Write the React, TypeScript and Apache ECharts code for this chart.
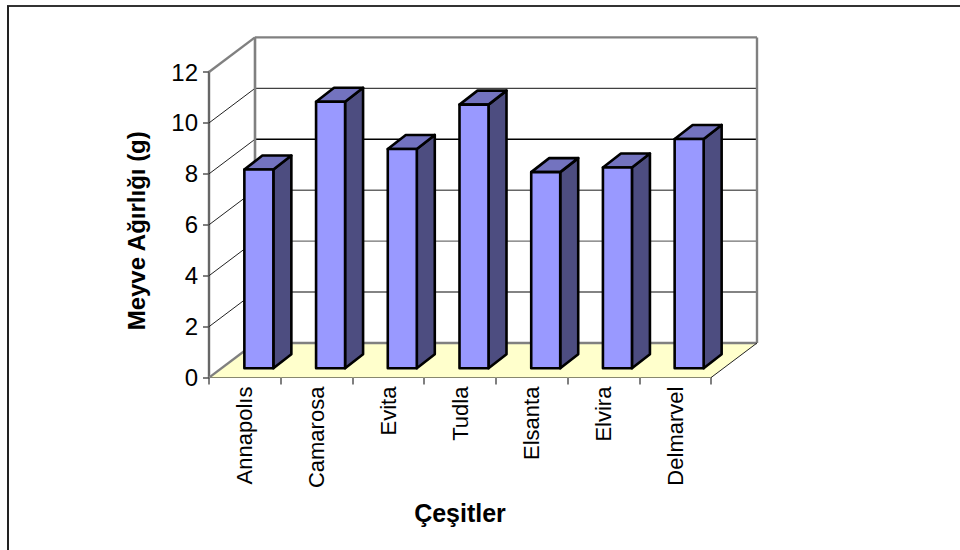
import React, { useEffect, useRef } from "react";
import * as echarts from "echarts";

const categories = ["Annapolıs", "Camarosa", "Evita", "Tudla", "Elsanta", "Elvira", "Delmarvel"];
const weights = [7.8, 10.46, 8.61, 10.35, 7.7, 7.88, 9.0];
const yTicks = [0, 2, 4, 6, 8, 10, 12];
// Colour of each receding gridline, bottom to top.
const gridColors = ["#808080", "#5a5a5a", "#707070", "#666666", "#000000", "#404040", "#808080"];
const xTitle = "Çeşitler";
const yTitle = "Meyve Ağırlığı (g)";

const FONT = '"Liberation Sans", Arial, sans-serif';

// Projection of the chart's depth axis onto the screen.
const WALL_DX = 46;
const WALL_DY = 34.6;
const BAR_DX = 14;
const BAR_DY = 9.4;
const BAR_DEPTH_X = 18;
const BAR_DEPTH_Y = 14;
const BAR_WIDTH = 29;

const FRAME = "#808080";

function renderWalls(params: any, api: any) {
  const cs = params.coordSys;
  const left = cs.x;
  const right = cs.x + cs.width;
  const bottom = cs.y + cs.height;
  const top = cs.y;
  const children: any[] = [];

  children.push({
    type: "polygon",
    shape: {
      points: [
        [left, bottom],
        [left + WALL_DX, bottom - WALL_DY],
        [right + WALL_DX, bottom - WALL_DY],
        [right, bottom],
      ],
    },
    style: { fill: "#FFFFCC", stroke: "none" },
  });

  yTicks.forEach((t, i) => {
    const y = api.coord([0, t])[1];
    const isEdge = i === 0 || i === yTicks.length - 1;
    children.push({
      type: "polyline",
      shape: {
        points: [
          [left, y],
          [left + WALL_DX, y - WALL_DY],
        ],
      },
      style: { fill: "none", stroke: isEdge ? FRAME : "#222222", lineWidth: isEdge ? 2.4 : 1 },
    });
    children.push({
      type: "line",
      shape: { x1: left + WALL_DX, y1: y - WALL_DY, x2: right + WALL_DX, y2: y - WALL_DY },
      style: { stroke: gridColors[i], lineWidth: isEdge ? 2.4 : 1.4 },
    });
  });

  children.push({
    type: "line",
    shape: { x1: left + WALL_DX, y1: top - WALL_DY, x2: left + WALL_DX, y2: bottom - WALL_DY },
    style: { stroke: FRAME, lineWidth: 2.6 },
  });
  children.push({
    type: "line",
    shape: { x1: right + WALL_DX, y1: top - WALL_DY, x2: right + WALL_DX, y2: bottom - WALL_DY },
    style: { stroke: FRAME, lineWidth: 2.4 },
  });
  children.push({
    type: "line",
    shape: { x1: right, y1: bottom, x2: right + WALL_DX, y2: bottom - WALL_DY },
    style: { stroke: "#222222", lineWidth: 1 },
  });

  return { type: "group", children };
}

function renderBar(_params: any, api: any) {
  const [cx, yTop] = api.coord([api.value(0), api.value(1)]);
  const [, yBase] = api.coord([api.value(0), 0]);
  const x0 = cx + BAR_DX - BAR_WIDTH / 2;
  const x1 = x0 + BAR_WIDTH;
  const y0 = yTop - BAR_DY;
  const y1 = yBase - BAR_DY;
  const edge = { stroke: "#000000", lineWidth: 2.6, lineJoin: "round" };
  return {
    type: "group",
    children: [
      {
        type: "polygon",
        shape: {
          points: [
            [x1, y0],
            [x1 + BAR_DEPTH_X, y0 - BAR_DEPTH_Y],
            [x1 + BAR_DEPTH_X, y1 - BAR_DEPTH_Y],
            [x1, y1],
          ],
        },
        style: { fill: "#4D4D80", ...edge },
      },
      {
        type: "polygon",
        shape: {
          points: [
            [x0, y0],
            [x0 + BAR_DEPTH_X, y0 - BAR_DEPTH_Y],
            [x1 + BAR_DEPTH_X, y0 - BAR_DEPTH_Y],
            [x1, y0],
          ],
        },
        style: { fill: "#7373BF", ...edge },
      },
      {
        type: "rect",
        shape: { x: x0, y: y0, width: BAR_WIDTH, height: y1 - y0 },
        style: { fill: "#9999FF", ...edge },
      },
    ],
  };
}

export default function App() {
  const ref = useRef<HTMLDivElement>(null);

  useEffect(() => {
    const chart = echarts.init(ref.current!, undefined, { renderer: "svg" });
    chart.setOption({
      animation: false,
      backgroundColor: "#ffffff",
      textStyle: { fontFamily: FONT },
      grid: { left: 209, top: 72, width: 502, height: 305.6 },
      xAxis: {
        type: "category",
        data: categories,
        name: xTitle,
        nameLocation: "middle",
        nameGap: 123,
        nameTextStyle: { fontFamily: FONT, fontWeight: "bold", fontSize: 25, color: "#000" },
        axisLine: { lineStyle: { color: "#111111", width: 1 } },
        axisTick: { show: true, length: 7, lineStyle: { color: "#555555", width: 1.5 } },
        axisLabel: { rotate: 90, interval: 0, margin: 9, fontFamily: FONT, fontSize: 22, color: "#000" },
        splitLine: { show: false },
      },
      yAxis: {
        type: "value",
        min: 0,
        max: 12,
        interval: 2,
        name: yTitle,
        nameLocation: "middle",
        nameGap: 61,
        nameTextStyle: { fontFamily: FONT, fontWeight: "bold", fontSize: 24, color: "#000", padding: [0, 12, 0, 0] },
        axisLine: { show: true, lineStyle: { color: "#666666", width: 2.4 } },
        axisTick: { show: true, length: 6, lineStyle: { color: "#555555", width: 1.5 } },
        axisLabel: { margin: 11, fontFamily: FONT, fontSize: 24, color: "#000" },
        splitLine: { show: false },
      },
      graphic: [
        {
          type: "line",
          shape: { x1: 7, y1: 6, x2: 960, y2: 6 },
          style: { stroke: "#333333", lineWidth: 2 },
        },
        {
          type: "line",
          shape: { x1: 8, y1: 6, x2: 8, y2: 550 },
          style: { stroke: "#222222", lineWidth: 2 },
        },
      ],
      series: [
        {
          type: "custom",
          z: 1,
          silent: true,
          clip: false,
          coordinateSystem: "cartesian2d",
          renderItem: renderWalls,
          data: [[0, 0]],
        },
        {
          type: "custom",
          z: 3,
          silent: true,
          clip: false,
          coordinateSystem: "cartesian2d",
          renderItem: renderBar,
          encode: { x: 0, y: 1 },
          data: weights.map((v, i) => [i, v]),
        },
      ],
    });
    return () => chart.dispose();
  }, []);

  return <div ref={ref} style={{ position: "fixed", left: 0, top: 0, width: 960, height: 550 }} />;
}
